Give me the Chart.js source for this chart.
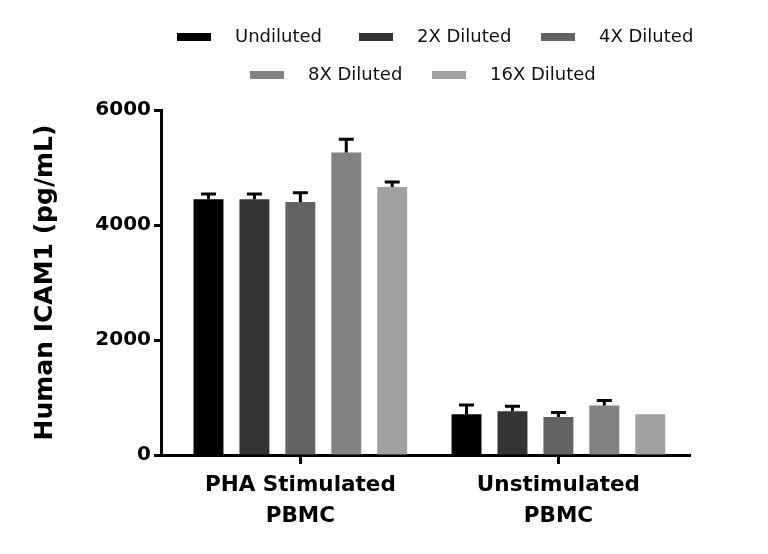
<!DOCTYPE html>
<html lang="en">
<head>
    <meta charset="UTF-8">
    <title>Human ICAM1</title>
    <style>
        body {
            margin: 0;
            background: #fff;
        }
        .wrap {
            width: 768px;
            height: 554px;
        }
    </style>
</head>
<body>
    <div class="wrap">
        <canvas id="chart"></canvas>
    </div>

    <script src="https://cdn.jsdelivr.net/npm/chart.js@4"></script>
    <script>
        const categories = [['PHA Stimulated', 'PBMC'], ['Unstimulated', 'PBMC']];
        const seriesNames = ['Undiluted', '2X Diluted', '4X Diluted', '8X Diluted', '16X Diluted'];
        const seriesColors = ['#000000', '#333333', '#636363', '#828282', '#a0a0a2'];

        const undiluted = [4450, 710];
        const diluted2x = [4450, 760];
        const diluted4x = [4400, 660];
        const diluted8x = [5260, 860];
        const diluted16x = [4660, 710];

        // upward SD bars
        const undilutedErr = [90, 160];
        const diluted2xErr = [90, 90];
        const diluted4xErr = [160, 80];
        const diluted8xErr = [230, 90];
        const diluted16xErr = [90, 0];

        const yTicks = [0, 2000, 4000, 6000];

        const seriesValues = [undiluted, diluted2x, diluted4x, diluted8x, diluted16x];
        const seriesErrors = [undilutedErr, diluted2xErr, diluted4xErr, diluted8xErr, diluted16xErr];

        const FONT = "'DejaVu Sans', sans-serif";

        // draws the "T" error caps above each bar, plus the group tick marks under the x axis
        const errorBars = {
            id: 'errorBars',
            afterDatasetsDraw(chart) {
                const ctx = chart.ctx;
                const x = chart.scales.x;
                const y = chart.scales.y;
                ctx.save();
                ctx.strokeStyle = '#000';
                ctx.lineWidth = 3;
                chart.data.datasets.forEach((ds, i) => {
                    const meta = chart.getDatasetMeta(i);
                    meta.data.forEach((bar, j) => {
                        const err = ds.errors[j];
                        if (!err) return;
                        const top = y.getPixelForValue(ds.data[j].y + err);
                        ctx.beginPath();
                        ctx.moveTo(bar.x, bar.y);
                        ctx.lineTo(bar.x, top);
                        ctx.moveTo(bar.x - 7.5, top);
                        ctx.lineTo(bar.x + 7.5, top);
                        ctx.stroke();
                    });
                });
                categories.forEach((c, j) => {
                    const px = Math.round(x.getPixelForValue(j)) + 0.5;
                    ctx.beginPath();
                    ctx.moveTo(px, x.top);
                    ctx.lineTo(px, x.top + 9);
                    ctx.stroke();
                });
                ctx.restore();
            }
        };

        // two-row legend like the original figure
        const legendRows = [[0, 1, 2], [3, 4]];
        const legendRowStart = [177, 250];
        const legendRowY = [37, 75];
        const boxLegend = {
            id: 'boxLegend',
            afterDraw(chart) {
                const ctx = chart.ctx;
                ctx.save();
                ctx.font = '18px ' + FONT;
                ctx.textBaseline = 'middle';
                ctx.textAlign = 'left';
                legendRows.forEach((row, r) => {
                    row.forEach((idx, k) => {
                        const ds = chart.data.datasets[idx];
                        const x = legendRowStart[r] + k * 182;
                        const yy = legendRowY[r];
                        ctx.fillStyle = ds.backgroundColor;
                        ctx.fillRect(x, yy - 4, 34, 8);
                        ctx.fillStyle = '#111';
                        ctx.fillText(ds.label, x + 58, yy);
                    });
                });
                ctx.restore();
            }
        };

        // groups sit at x = 0 and x = 1 on a linear axis (the plot is not symmetric)
        const datasets = seriesNames.map((name, i) => ({
            label: name,
            data: seriesValues[i].map((v, j) => ({ x: j, y: v })),
            errors: seriesErrors[i],
            backgroundColor: seriesColors[i],
            borderWidth: 0,
            categoryPercentage: 0.89,
            barPercentage: 0.652
        }));

        new Chart(document.getElementById('chart'), {
            type: 'bar',
            data: { datasets: datasets },
            options: {
                responsive: true,
                maintainAspectRatio: false,
                animation: false,
                layout: { padding: { top: 110, right: 78, left: 20, bottom: 5 } },
                plugins: {
                    legend: { display: false },
                    tooltip: { enabled: false }
                },
                scales: {
                    x: {
                        type: 'linear',
                        min: -0.54,
                        max: 1.51,
                        offset: false,
                        afterFit: s => { s.height = 94; },
                        afterBuildTicks: s => { s.ticks = categories.map((c, j) => ({ value: j })); },
                        grid: {
                            offset: false,
                            drawOnChartArea: false,
                            drawTicks: true,
                            tickLength: 9,
                            tickWidth: 3,
                            tickColor: '#000'
                        },
                        border: { display: true, width: 3, color: '#000' },
                        ticks: {
                            color: '#000',
                            padding: 6,
                            maxRotation: 0,
                            autoSkip: false,
                            callback: v => categories[v],
                            font: { family: FONT, size: 21.5, weight: 'bold', lineHeight: 1.45 }
                        }
                    },
                    y: {
                        min: 0,
                        max: 6000,
                        afterFit: s => { s.width = 141; },
                        afterBuildTicks: s => { s.ticks = yTicks.map(v => ({ value: v })); },
                        grid: {
                            drawOnChartArea: false,
                            drawTicks: true,
                            tickLength: 7,
                            tickWidth: 3,
                            tickColor: '#000'
                        },
                        border: { display: true, width: 3, color: '#000' },
                        ticks: {
                            color: '#000',
                            padding: 3,
                            callback: v => String(v),
                            font: { family: FONT, size: 20, weight: 'bold' }
                        },
                        title: {
                            display: true,
                            text: 'Human ICAM1 (pg/mL)',
                            color: '#000',
                            padding: { top: 10, bottom: 0 },
                            font: { family: FONT, size: 25, weight: 'bold' }
                        }
                    }
                }
            },
            plugins: [errorBars, boxLegend]
        });
    </script>
</body>
</html>
